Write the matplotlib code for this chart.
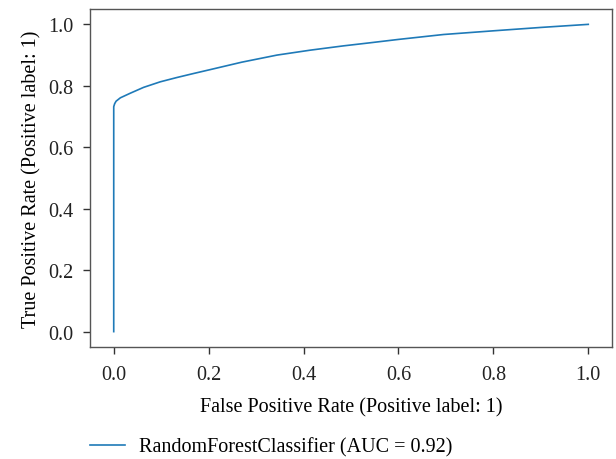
import matplotlib
matplotlib.use("Agg")
import matplotlib.pyplot as plt

fpr = [0.0, 0.0, 0.002, 0.005, 0.014, 0.035, 0.063, 0.098, 0.133, 0.168, 0.204, 0.27, 0.344, 0.414, 0.484, 0.540, 0.6, 0.695, 0.8, 0.9, 1.0]
tpr = [0.0, 0.732, 0.742, 0.750, 0.761, 0.776, 0.795, 0.813, 0.827, 0.840, 0.853, 0.877, 0.900, 0.916, 0.930, 0.940, 0.951, 0.967, 0.979, 0.990, 1.0]
label = "RandomForestClassifier (AUC = 0.92)"
ticks = [0.0, 0.2, 0.4, 0.6, 0.8, 1.0]

plt.rcParams['font.family'] = ['Liberation Serif', 'DejaVu Serif']
plt.rcParams['font.size'] = 14.5

fig = plt.figure(figsize=(6.16, 4.6), dpi=100)
ax = fig.add_axes([90/616, 1 - 348/460, (612-90)/616, (348-10)/460])
line, = ax.plot(fpr, tpr, color='#1f7ab8', lw=1.2, label=label)
ax.set_xlim(-0.05, 1.05)
ax.set_ylim(-0.05, 1.05)
ax.set_xticks(ticks)
ax.set_yticks(ticks)
ax.set_xticklabels([f"{t:.1f}" for t in ticks])
ax.set_yticklabels([f"{t:.1f}" for t in ticks])
ax.set_xlabel("False Positive Rate (Positive label: 1)", labelpad=9.5)
ax.set_ylabel("True Positive Rate (Positive label: 1)", labelpad=5)
for s in ax.spines.values():
    s.set_color('#555555')
    s.set_linewidth(1.0)
ax.tick_params(length=5, width=1, color='#333333', labelcolor='#222222')
ax.tick_params(axis='x', pad=8)
ax.tick_params(axis='y', pad=7)
fig.legend(handles=[line], loc='center left', bbox_to_anchor=(72/616, 1 - 448/460),
           frameon=False, handlelength=1.75, handletextpad=0.7, fontsize=14.5)
fig.savefig("out.png", dpi=100)
